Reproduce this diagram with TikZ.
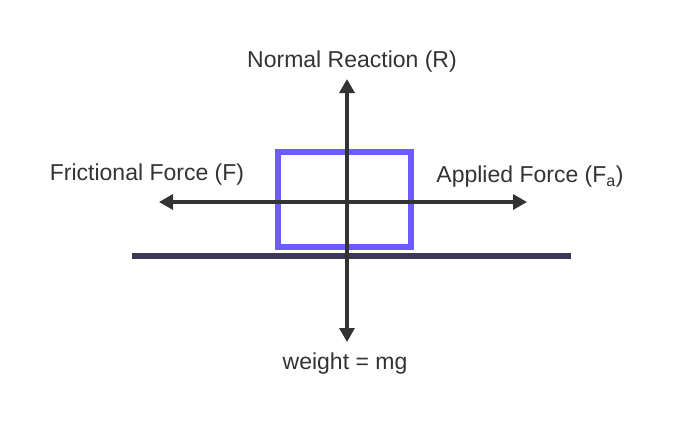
\documentclass[tikz,border=0pt]{standalone}
\usepackage{fontspec}
\setmainfont{Liberation Sans}
\usetikzlibrary{arrows.meta}
\begin{document}
\begin{tikzpicture}[x=1pt,y=-1pt,
  lbl/.style={font=\fontsize{23}{26}\selectfont, text=black!80, inner sep=0pt},
  force/.style={line width=3.2pt, draw=black!80, -{Triangle[length=14pt,width=15pt]}}]
\useasboundingbox (0,0) rectangle (674,426);
\definecolor{boxc}{HTML}{6C5CFF}
\definecolor{gnd}{HTML}{3D3856}
\draw[boxc, line width=6pt] (278,152) rectangle (411,247);
\draw[gnd, line width=6pt] (132,256) coordinate (g1) -- (571,256) coordinate (g2);
\coordinate (c) at (347,202);
\coordinate (up) at (347,79);
\coordinate (dn) at (347,342);
\coordinate (lf) at (159,202);
\coordinate (rt) at (527,202);
\draw[force] (c) -- (up);
\draw[force] (c) -- (dn);
\draw[force] (c) -- (lf);
\draw[force] (c) -- (rt);
\node[lbl] (nr) at (352,62) {Normal Reaction (R)};
\node[lbl] (ff) at (147,175) {Frictional Force (F)};
\node[lbl] (af) at (530,177) {Applied Force (F\textsubscript{a})};
\node[lbl] (w) at (345,364) {weight = mg};
\end{tikzpicture}
\end{document}
